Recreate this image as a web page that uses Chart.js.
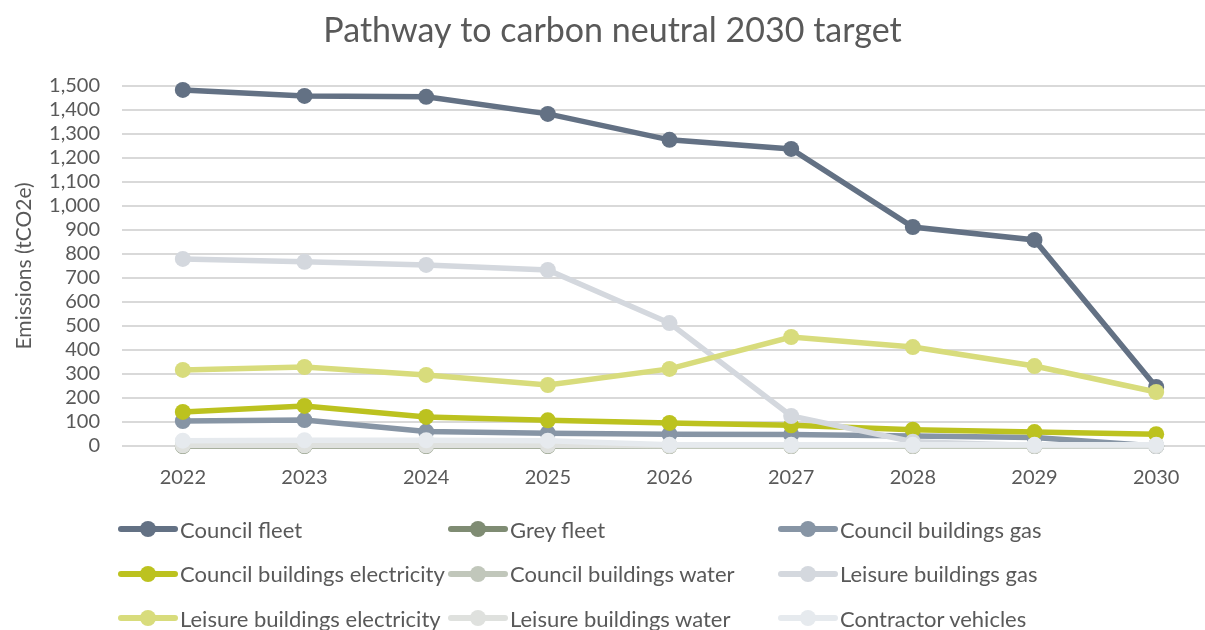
<!DOCTYPE html>
<html>
<head>
<meta charset="utf-8">
<script src="https://cdn.jsdelivr.net/npm/chart.js@4.4.0/dist/chart.umd.min.js"></script>
<style>
  html, body { margin: 0; padding: 0; background: #fff; overflow: hidden; }
  #wrap { position: relative; width: 1225px; height: 630px; }
  #legenda {
    position: absolute; left: 118px; top: 507px;
    display: grid; grid-template-columns: 330px 330px 330px; grid-auto-rows: 44.5px;
    font-family: Lato, sans-serif; font-size: 22px; color: #595959;
  }
  .item { display: flex; align-items: center; white-space: nowrap; }
  .amostra { position: relative; width: 60px; height: 16px; margin-right: 2px; flex: none; }
  .amostra .linha { position: absolute; left: 0; right: 0; top: 5px; height: 6px; border-radius: 3px; }
  .amostra .ponto { position: absolute; left: 22px; top: 0; width: 16px; height: 16px; border-radius: 50%; }
</style>
</head>
<body>
<div id="wrap">
  <canvas id="graficoCarbono" width="1225" height="630"></canvas>
  <div id="legenda"></div>
</div>
<script>
// dados (tCO2e)
const anos = ['2022', '2023', '2024', '2025', '2026', '2027', '2028', '2029', '2030'];

const councilFleet = [1483, 1458, 1454, 1383, 1275, 1237, 912, 858, 246];
const greyFleet = [0, 0, 0, 0, 0, 0, 0, 0, 0];
const councilBuildingsGas = [104, 108, 60, 53, 49, 48, 42, 35, 0];
const councilBuildingsElectricity = [142, 167, 121, 107, 96, 86, 68, 58, 49];
const councilBuildingsWater = [2, 2, 2, 2, 0, 0, 0, 0, 0];
const leisureBuildingsGas = [779, 767, 754, 733, 512, 125, 18, 2, 0];
const leisureBuildingsElectricity = [317, 329, 296, 254, 321, 454, 412, 333, 225];
const leisureBuildingsWater = [3, 3, 3, 3, 2, 2, 2, 2, 2];
const contractorVehicles = [22, 24, 24, 22, 5, 5, 5, 5, 5];

const nomesSeries = [
  'Council fleet', 'Grey fleet', 'Council buildings gas',
  'Council buildings electricity', 'Council buildings water', 'Leisure buildings gas',
  'Leisure buildings electricity', 'Leisure buildings water', 'Contractor vehicles'
];
const valoresSeries = [
  councilFleet, greyFleet, councilBuildingsGas,
  councilBuildingsElectricity, councilBuildingsWater, leisureBuildingsGas,
  leisureBuildingsElectricity, leisureBuildingsWater, contractorVehicles
];
const coresSeries = [
  '#637184', '#7f8c73', '#8795a5',
  '#bcc21f', '#c1c7bb', '#d4d8de',
  '#d8dc7c', '#dfe1de', '#e6eaee'
];

const fonte = 'Lato, sans-serif';
const cinzaTexto = '#595959';

let datasets = [];
for (let i = 0; i < nomesSeries.length; i++) {
  datasets.push({
    label: nomesSeries[i],
    data: valoresSeries[i],
    borderColor: coresSeries[i],
    backgroundColor: coresSeries[i],
    pointBackgroundColor: coresSeries[i],
    pointBorderColor: coresSeries[i],
    borderWidth: 5.5,
    pointRadius: 8,
    pointBorderWidth: 0,
    fill: false,
    clip: false,
    order: nomesSeries.length - i // series seguintes por cima, como no Excel
  });
}

const graficoCarbono = document.getElementById('graficoCarbono');

let findGraficoCarbono = new Chart(graficoCarbono, {
  type: 'line',
  data: {
    labels: anos,
    datasets: datasets
  },
  options: {
    responsive: false,
    animation: false,
    devicePixelRatio: 1,
    layout: {
      padding: { left: 0, right: 0, top: 5, bottom: 128 }
    },
    plugins: {
      legend: { display: false },
      tooltip: { enabled: false },
      title: {
        display: true,
        text: 'Pathway to carbon neutral 2030 target',
        color: cinzaTexto,
        font: { family: fonte, size: 34, weight: 'normal' },
        padding: { top: 6, bottom: 34 }
      }
    },
    scales: {
      x: {
        offset: true,
        grid: { display: false },
        border: { display: false },
        ticks: {
          color: cinzaTexto,
          font: { family: fonte, size: 20 },
          padding: 12
        }
      },
      y: {
        min: 0,
        max: 1500,
        afterFit: function (escala) {
          escala.width = 122;
        },
        grid: { color: '#d9d9d9', lineWidth: 2, drawTicks: false },
        border: { display: false },
        ticks: {
          stepSize: 100,
          autoSkip: false,
          color: cinzaTexto,
          font: { family: fonte, size: 20 },
          padding: 22
        },
        title: {
          display: true,
          text: 'Emissions (tCO2e)',
          color: cinzaTexto,
          font: { family: fonte, size: 21 },
          padding: { top: 12, bottom: 0 }
        }
      }
    }
  }
});

// legenda em 3 colunas, montada a partir das series
const legenda = document.getElementById('legenda');
for (let i = 0; i < nomesSeries.length; i++) {
  let item = document.createElement('div');
  item.className = 'item';
  item.innerHTML =
    '<span class="amostra"><span class="linha" style="background:' + coresSeries[i] + '"></span>' +
    '<span class="ponto" style="background:' + coresSeries[i] + '"></span></span>' +
    '<span>' + nomesSeries[i] + '</span>';
  legenda.appendChild(item);
}
</script>
</body>
</html>
